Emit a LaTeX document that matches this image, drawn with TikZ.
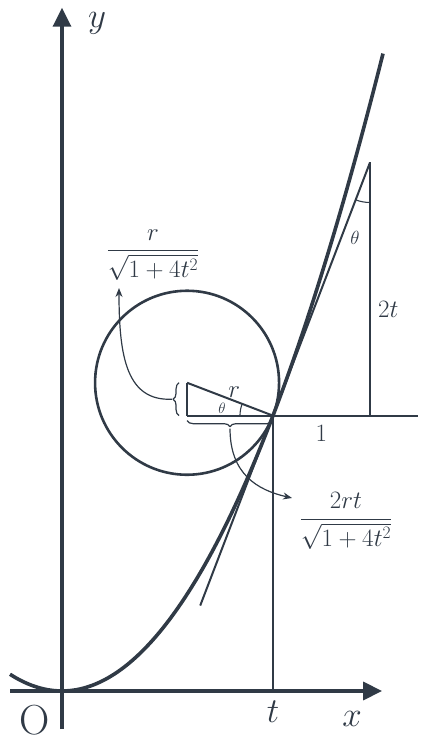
\RequirePackage{fix-cm}
\documentclass[tikz,border=0pt]{standalone}
\usepackage{amsmath}
\usetikzlibrary{arrows.meta,calc,angles,decorations.pathreplacing}
\definecolor{ink}{RGB}{48,58,70}

\begin{document}
\begin{tikzpicture}[x=97pt, y=58.2pt, line join=round]
    % Styles
    \tikzstyle{axis} = [ink, line width=3.4pt, -{Triangle[length=19pt,width=18pt]}]
    \tikzstyle{curve} = [ink, line width=3.6pt]
    \tikzstyle{thin} = [ink, line width=2pt]
    \tikzstyle{brace} = [ink, line width=1.2pt, decorate, decoration={brace, amplitude=6pt}]
    \tikzstyle{pointer} = [ink, line width=1.2pt, -{Stealth[length=9pt,width=7pt]}]
    \tikzstyle{lbl} = [text=ink, font=\fontsize{25}{29}\selectfont, inner sep=1pt]
    \tikzstyle{axlabel} = [text=ink, font=\fontsize{35}{40}\selectfont, inner sep=1pt]
    \tikzstyle{ang} = [text=ink, font=\fontsize{15}{18}\selectfont, inner sep=1pt]

    \useasboundingbox (-62pt,-60pt) rectangle (366pt,691pt);

    % Points
    \pgfmathsetmacro\tval{2.175}
    \coordinate (O) at (0,0);
    \coordinate (P) at (\tval,{\tval*\tval});
    \coordinate (T) at ({\tval+1},{\tval*\tval+2*\tval});
    \coordinate (B) at ({\tval+1},{\tval*\tval});
    \coordinate (E) at (3.67,{\tval*\tval});
    \coordinate (Q) at (\tval,0);
    \coordinate (C) at ($(P)!92pt!90:(T)$);
    \coordinate (F) at (C |- P);

    % Axes
    \coordinate (xs) at (-0.536,0);
    \coordinate (xe) at (3.30,0);
    \coordinate (ys) at (0,-0.653);
    \coordinate (ye) at (0,11.74);
    \draw[axis] (xs) -- (xe);
    \draw[axis] (ys) -- (ye);
    \node[axlabel] (xl) at ($(O)+(290pt,-28pt)$) {$x$};
    \node[axlabel] (yl) at ($(O)+(35pt,668pt)$) {$y$};
    \node[text=ink, font=\fontsize{42}{48}\selectfont] (ol) at ($(O)+(-27pt,-29pt)$) {O};

    % Point t and triangle 1 : 2t
    \draw[thin] (P) -- (Q);
    \node[axlabel, below=9pt] (tl) at (Q) {$t$};
    \draw[thin] (F) -- (E);
    \draw[thin] (B) -- (T);
    \draw[thin] ($(P)!-0.75!(T)$) -- (T);
    \pic[draw=ink, line width=1.1pt, angle radius=40pt] {angle=P--T--B};
    \path (P) -- node[lbl, below=9pt] (one) {$1$} (B);
    \path (B) -- node[lbl, right=7pt, pos=0.42] (two) {$2t$} (T);
    \node[ang, font=\fontsize{19}{22}\selectfont] (th2) at ($(T)+(-15pt,-75pt)$) {$\theta$};

    % Circle and radius
    \draw[ink, line width=2.6pt] (C) circle[radius=92pt];
    \draw[thin] (C) -- (P);
    \draw[thin] (C) -- (F);
    \path (C) -- node[lbl, above=2pt, pos=0.55] (rl) {$r$} (P);
    \pic[draw=ink, line width=1.1pt, angle radius=33pt] {angle=C--P--F};
    \node[ang] (th1) at ($(P)+(-51pt,7pt)$) {$\theta$};

    % Curve
    \draw[curve] plot[domain=-0.536:3.31, samples=80, smooth] (\x,{\x*\x});

    % Braces and pointers
    \draw[brace] ([xshift=-8pt]F) -- ([xshift=-8pt]C);
    \draw[brace] ([yshift=-5pt]P) -- ([yshift=-5pt]F);
    \coordinate (b1) at ($(F)!0.5!(C)+(-15pt,0)$);
    \coordinate (b2) at ($(F)!0.5!(P)+(0,-13pt)$);
    \node[lbl] (f1) at ($(O)+(91pt,436pt)$) {$\dfrac{r}{\sqrt{1+4t^2}}$};
    \node[lbl] (f2) at ($(O)+(284pt,170pt)$) {$\dfrac{2rt}{\sqrt{1+4t^2}}$};
    \coordinate (a1) at ($(O)+(57pt,403pt)$);
    \coordinate (a2) at ($(O)+(230pt,193pt)$);
    \draw[pointer] (b1) .. controls +(-45pt,-2pt) and +(0,-70pt) .. (a1);
    \draw[pointer] (b2) .. controls +(0,-45pt) and +(-35pt,8pt) .. (a2);
\end{tikzpicture}
\end{document}
